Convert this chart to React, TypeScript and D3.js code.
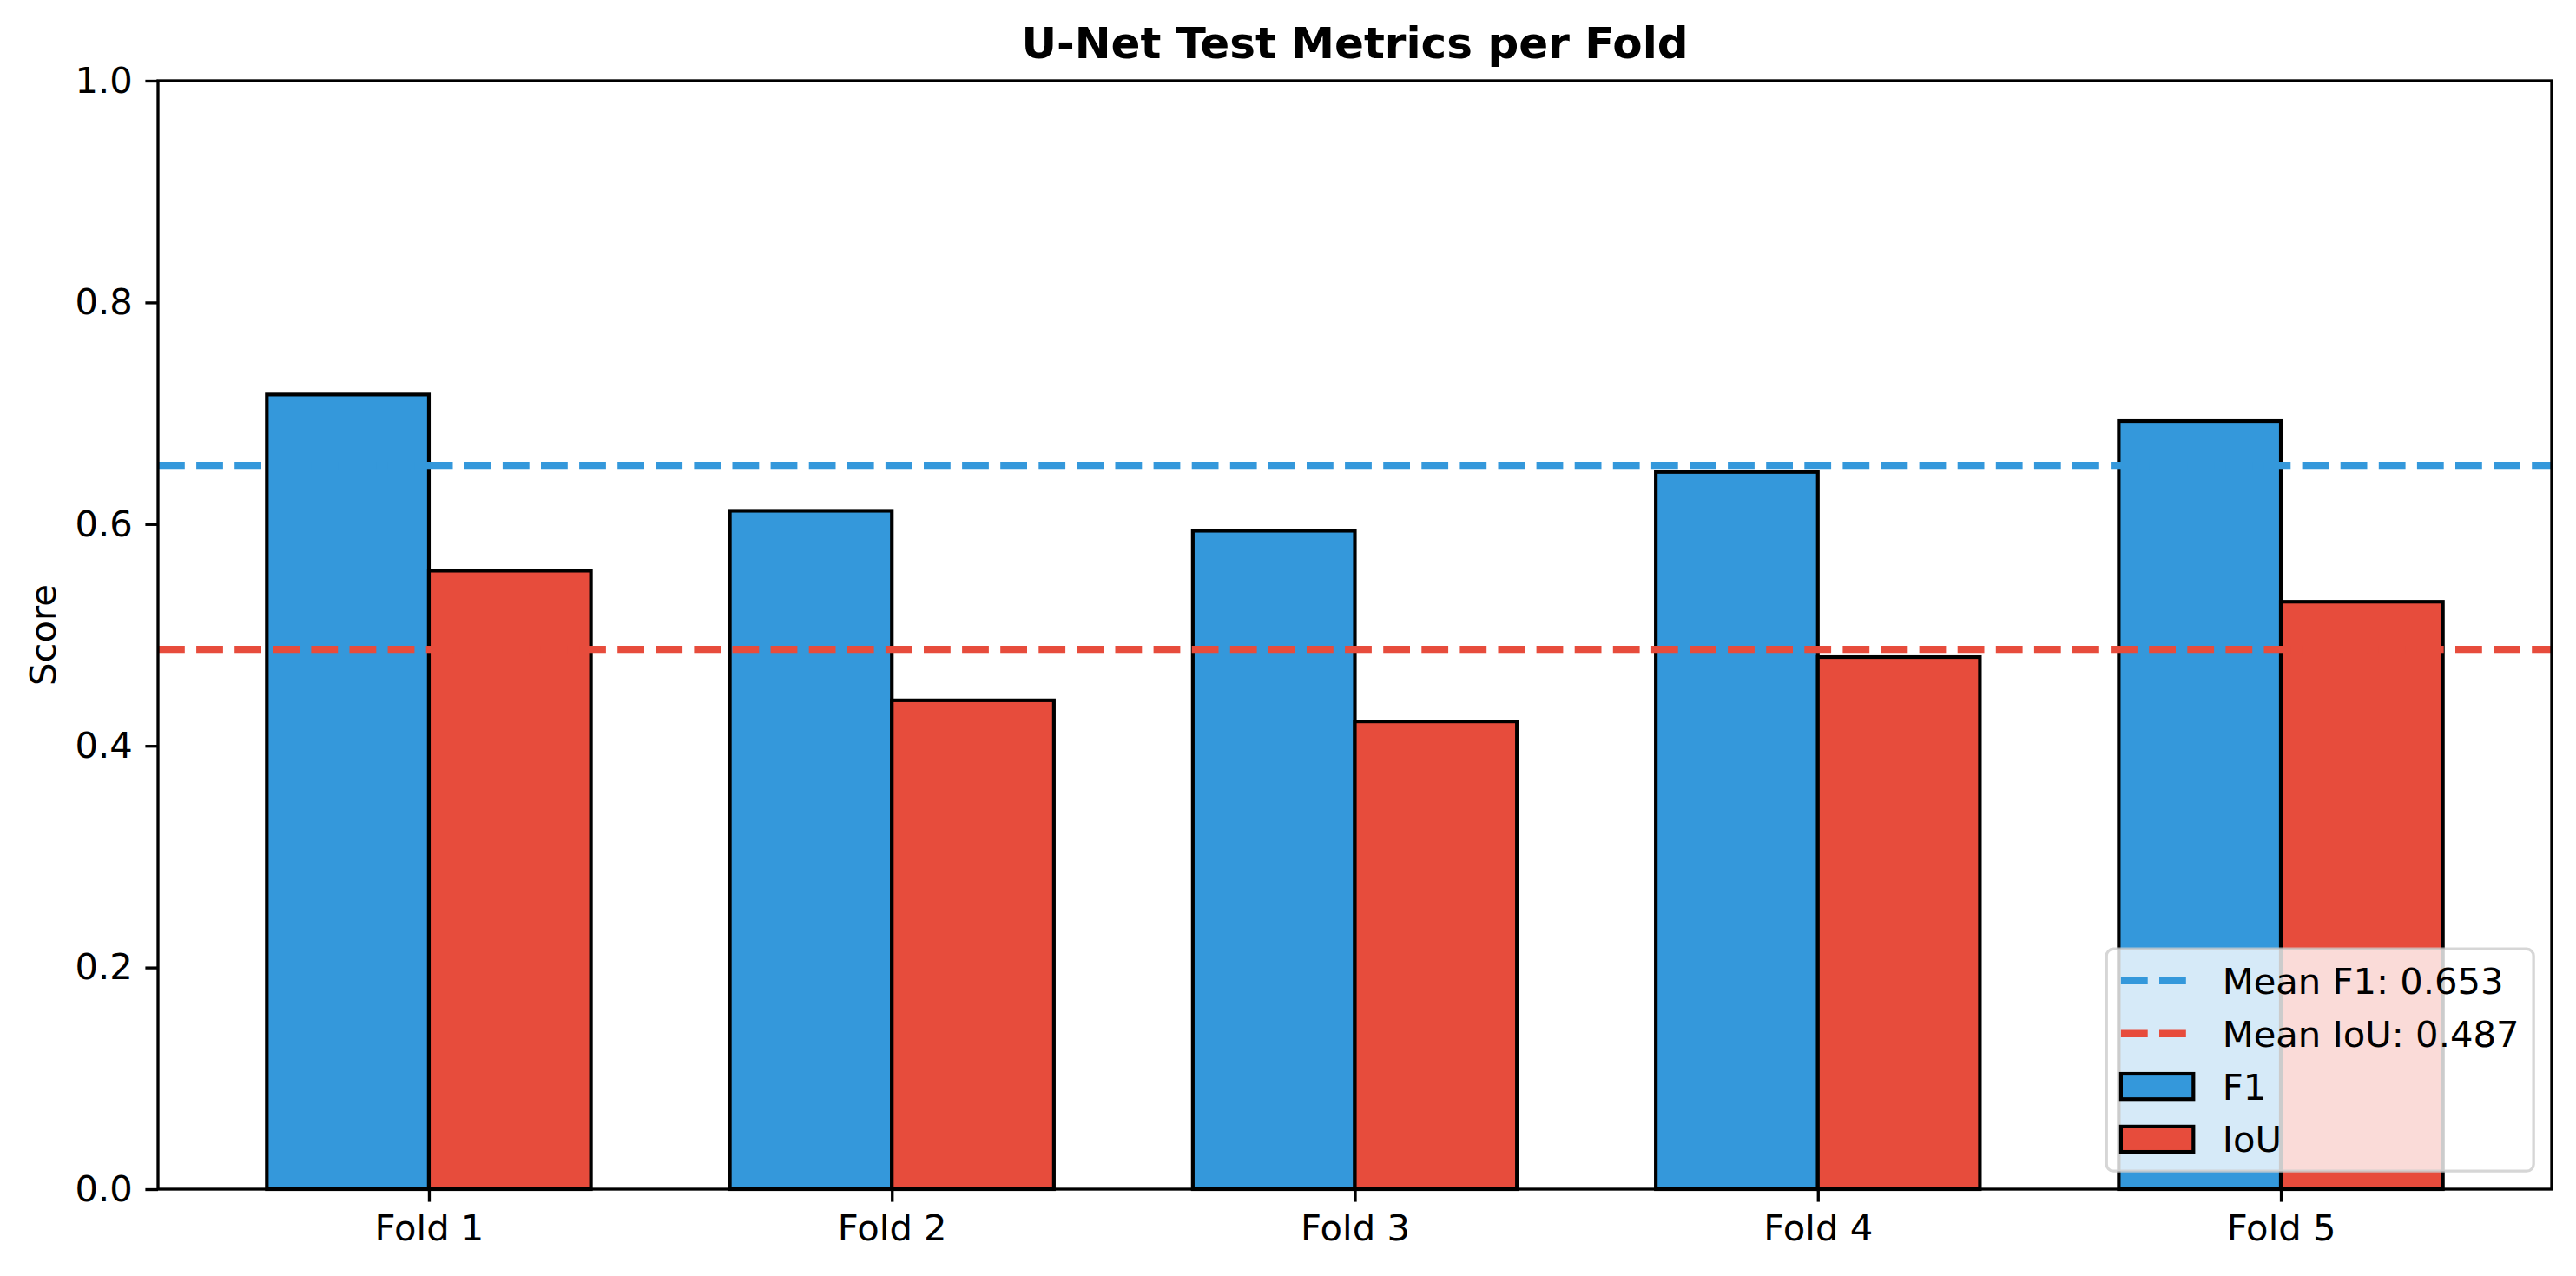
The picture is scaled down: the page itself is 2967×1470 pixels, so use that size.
import { useEffect, useRef } from 'react';
import * as d3 from 'd3';

const folds = ['Fold 1', 'Fold 2', 'Fold 3', 'Fold 4', 'Fold 5'];
const f1Scores = [0.717, 0.612, 0.594, 0.647, 0.693];
const iouScores = [0.558, 0.441, 0.422, 0.48, 0.53];
const meanF1 = 0.653;
const meanIoU = 0.487;
const yTicks = [0, 0.2, 0.4, 0.6, 0.8, 1.0];

const F1_COLOR = '#3498db';
const IOU_COLOR = '#e74c3c';
const FONT = '"DejaVu Sans", sans-serif';

const App = () => {
  const svgRef = useRef<SVGSVGElement>(null);

  useEffect(() => {
    document.body.style.margin = '0';
    const width = 2967;
    const height = 1470;
    const margin = { top: 93, right: 28, bottom: 100, left: 182 };
    const fs = 41.7;
    const barW = 0.35;

    if (!svgRef.current) return;
    const svg = d3.select(svgRef.current)
      .attr('width', width)
      .attr('height', height)
      .style('display', 'block')
      .style('font-family', FONT);
    svg.selectAll('*').remove();

    svg.append('rect').attr('width', width).attr('height', height).attr('fill', 'white');

    const x = d3.scaleLinear()
      .domain([-0.585, folds.length - 1 + 0.585])
      .range([margin.left, width - margin.right]);
    const y = d3.scaleLinear()
      .domain([0, 1])
      .range([height - margin.bottom, margin.top]);

    const series = [
      { name: 'F1', values: f1Scores, color: F1_COLOR, offset: -barW / 2 },
      { name: 'IoU', values: iouScores, color: IOU_COLOR, offset: barW / 2 },
    ];

    // bars
    series.forEach(s => {
      svg.append('g')
        .selectAll('rect')
        .data(s.values)
        .enter()
        .append('rect')
        .attr('x', (_, i) => x(i + s.offset - barW / 2))
        .attr('y', d => y(d))
        .attr('width', x(barW) - x(0))
        .attr('height', d => y(0) - y(d))
        .attr('fill', s.color)
        .attr('stroke', 'black')
        .attr('stroke-width', 4.17);
    });

    // mean lines
    const means = [
      { label: `Mean F1: ${meanF1.toFixed(3)}`, value: meanF1, color: F1_COLOR },
      { label: `Mean IoU: ${meanIoU.toFixed(3)}`, value: meanIoU, color: IOU_COLOR },
    ];
    means.forEach(m => {
      svg.append('line')
        .attr('x1', x.range()[0])
        .attr('x2', x.range()[1])
        .attr('y1', y(m.value))
        .attr('y2', y(m.value))
        .attr('stroke', m.color)
        .attr('stroke-width', 8.33)
        .attr('stroke-dasharray', '30.8,13.3');
    });

    // axes
    const yAxis = svg.append('g')
      .attr('transform', `translate(${margin.left},0)`)
      .call(d3.axisLeft(y).tickValues(yTicks).tickFormat(d3.format('.1f')).tickSize(14.6).tickPadding(14.6));
    const xAxis = svg.append('g')
      .attr('transform', `translate(0,${height - margin.bottom})`)
      .call(d3.axisBottom(x).tickValues(folds.map((_, i) => i)).tickFormat((_, i) => folds[i]).tickSize(14.6).tickPadding(14.6));
    [xAxis, yAxis].forEach(a => {
      a.select('.domain').remove();
      a.selectAll('line').attr('stroke', 'black').attr('stroke-width', 3.33);
      a.selectAll('text').attr('font-size', fs).attr('font-family', FONT).attr('fill', 'black');
    });

    // spines
    svg.append('rect')
      .attr('x', margin.left)
      .attr('y', margin.top)
      .attr('width', width - margin.right - margin.left)
      .attr('height', height - margin.bottom - margin.top)
      .attr('fill', 'none')
      .attr('stroke', 'black')
      .attr('stroke-width', 3.33);

    // title + y label
    svg.append('text')
      .attr('x', (margin.left + width - margin.right) / 2)
      .attr('y', margin.top - 26)
      .attr('text-anchor', 'middle')
      .attr('font-size', 50)
      .attr('font-weight', 'bold')
      .text('U-Net Test Metrics per Fold');

    svg.append('text')
      .attr('transform', `translate(64,${(margin.top + height - margin.bottom) / 2}) rotate(-90)`)
      .attr('text-anchor', 'middle')
      .attr('font-size', fs)
      .text('Score');

    // legend
    const items = [
      ...means.map(m => ({ label: m.label, color: m.color, kind: 'line' })),
      ...series.map(s => ({ label: s.name, color: s.color, kind: 'patch' })),
    ];
    const pad = 0.4 * fs;
    const handleLen = 2 * fs;
    const textPad = 0.8 * fs;
    const rowH = 40;
    const rowStep = rowH + 0.5 * fs;
    const legend = svg.append('g');
    const frame = legend.append('rect');
    const texts = legend.selectAll('text')
      .data(items)
      .enter()
      .append('text')
      .attr('font-size', fs)
      .attr('fill', 'black')
      .text(d => d.label);
    let maxW = 0;
    texts.each(function () {
      maxW = Math.max(maxW, (this as SVGTextElement).getComputedTextLength());
    });
    const legW = pad * 2 + handleLen + textPad + maxW;
    const legH = pad * 2 + rowH * items.length + (rowStep - rowH) * (items.length - 1);
    const legRight = width - margin.right - 0.5 * fs;
    const legBottom = height - margin.bottom - 0.5 * fs;
    const legX = legRight - legW;
    const legY = legBottom - legH;
    frame
      .attr('x', legX)
      .attr('y', legY)
      .attr('width', legW)
      .attr('height', legH)
      .attr('rx', 8)
      .attr('fill', 'white')
      .attr('fill-opacity', 0.8)
      .attr('stroke', '#cccccc')
      .attr('stroke-opacity', 0.8)
      .attr('stroke-width', 3.33);
    const rowMid = (i: number) => legY + pad + rowH / 2 + i * rowStep;
    texts
      .attr('x', legX + pad + handleLen + textPad)
      .attr('y', (_, i) => rowMid(i) + 0.36 * fs);
    items.forEach((it, i) => {
      if (it.kind === 'line') {
        legend.append('line')
          .attr('x1', legX + pad)
          .attr('x2', legX + pad + handleLen)
          .attr('y1', rowMid(i))
          .attr('y2', rowMid(i))
          .attr('stroke', it.color)
          .attr('stroke-width', 8.33)
          .attr('stroke-dasharray', '30.8,13.3');
      } else {
        legend.append('rect')
          .attr('x', legX + pad)
          .attr('y', rowMid(i) - 0.35 * fs)
          .attr('width', handleLen)
          .attr('height', 0.7 * fs)
          .attr('fill', it.color)
          .attr('stroke', 'black')
          .attr('stroke-width', 4.17);
      }
    });
  }, []);

  return <svg ref={svgRef}></svg>;
};

export default App;
